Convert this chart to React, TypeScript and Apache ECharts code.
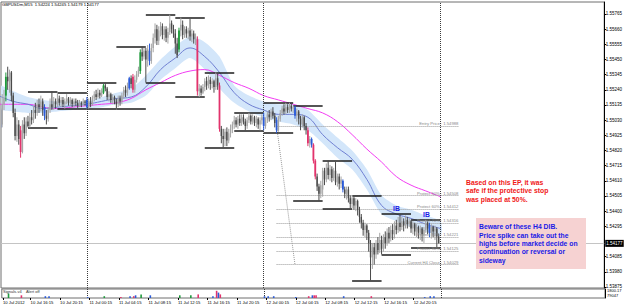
import React, { useEffect, useRef } from 'react';
import * as echarts from 'echarts';

const TITLE = 'GBPUSDm,M15  1.54224 1.54245 1.54179 1.54177';

// M15 candles, [open, close, low, high] in pips (5540 = 1.5540). Bar 0 = 10 Jul 12:00
const day10Bars = [
  [5520,5512,5505,5527],[5511,5498,5495,5518],[5500,5514,5498,5521],[5514,5518,5510,5524],[5520,5533,5516,5536],[5533,5530,5524,5540],[5530,5536,5522,5538],[5536,5520,5516,5537],
  [5520,5508,5505,5522],[5508,5492,5489,5511],[5492,5500,5488,5505],[5500,5490,5486,5503],[5496,5481,5477,5499],[5481,5500,5480,5503],[5500,5494,5490,5505],[5494,5502,5492,5505],
  [5502,5499,5498,5506],[5499,5505,5498,5508],[5505,5503,5500,5510],[5503,5510,5501,5513],[5510,5508,5504,5515],[5508,5514,5506,5517],[5514,5512,5508,5518],[5512,5516,5509,5520],
  [5516,5510,5506,5518],[5512,5506,5503,5514],[5506,5504,5500,5510],[5504,5510,5502,5512],[5510,5514,5508,5518],[5514,5512,5510,5523],[5512,5516,5510,5519],[5516,5514,5511,5518],
  [5514,5518,5512,5522],[5518,5515,5513,5520],[5515,5517,5512,5519],[5517,5514,5512,5519],[5514,5516,5511,5518],[5516,5518,5514,5521],[5518,5515,5513,5519],[5515,5517,5513,5519],
  [5517,5514,5512,5518],[5514,5516,5512,5518],[5516,5515,5513,5518],[5515,5513,5511,5517],[5513,5515,5512,5517],[5515,5514,5512,5516],[5514,5516,5513,5518],[5516,5515,5513,5517],
];
const day11Bars = [
  [5517,5512,5511,5519],[5512,5516,5511,5518],[5516,5514,5512,5519],[5514,5518,5513,5520],[5518,5521,5516,5523],[5521,5519,5517,5524],[5519,5522,5518,5525],[5522,5520,5518,5524],
  [5520,5523,5519,5525],[5522,5527,5521,5528],[5527,5525,5523,5529],[5525,5519,5517,5526],[5519,5521,5516,5523],[5521,5517,5515,5522],[5517,5519,5514,5521],[5519,5516,5514,5520],
  [5516,5514,5511,5518],[5514,5518,5512,5520],[5518,5516,5513,5520],[5516,5520,5514,5522],[5520,5524,5518,5526],[5524,5522,5519,5527],[5522,5526,5520,5529],[5525,5532,5524,5533],
  [5532,5528,5525,5534],[5533,5524,5522,5535],[5524,5531,5522,5534],[5531,5535,5529,5537],[5535,5538,5533,5540],[5537,5550,5535,5552],[5550,5547,5544,5554],[5547,5551,5545,5553],
  [5551,5545,5529,5553],[5545,5552,5540,5555],[5551,5544,5541,5556],[5544,5553,5542,5556],[5553,5560,5550,5563],[5560,5566,5556,5570],[5566,5558,5555,5569],[5558,5565,5555,5568],
  [5565,5568,5561,5571],[5568,5562,5559,5570],[5562,5566,5558,5568],[5566,5560,5557,5568],[5560,5564,5556,5567],[5564,5570,5562,5576],[5570,5566,5563,5572],[5566,5563,5560,5569],
  [5563,5556,5549,5566],[5556,5548,5546,5560],[5552,5565,5550,5567],[5565,5569,5561,5574],[5569,5562,5559,5572],[5562,5566,5560,5568],[5566,5563,5560,5568],[5563,5565,5559,5567],
  [5565,5561,5558,5573],[5561,5563,5557,5566],[5563,5559,5556,5565],[5559,5561,5555,5563],[5559,5523,5520,5561],[5523,5525,5519,5528],[5525,5522,5520,5527],[5522,5526,5521,5528],
  [5526,5530,5523,5532],[5530,5527,5524,5533],[5527,5531,5525,5534],[5531,5528,5524,5533],[5528,5530,5525,5532],[5530,5526,5522,5531],[5526,5532,5524,5536],[5532,5527,5524,5535],
  [5527,5497,5495,5529],[5497,5492,5487,5499],[5492,5490,5484,5497],[5490,5495,5485,5497],[5495,5489,5485,5498],[5489,5494,5487,5497],[5494,5497,5491,5500],[5497,5500,5494,5502],
  [5500,5503,5497,5506],[5503,5500,5498,5505],[5500,5504,5497,5506],[5504,5501,5499,5507],[5501,5505,5499,5507],[5505,5502,5500,5507],[5502,5499,5496,5504],[5499,5503,5497,5505],
  [5503,5506,5501,5508],[5506,5502,5500,5507],[5502,5505,5500,5507],[5505,5501,5499,5506],[5501,5504,5498,5506],[5504,5500,5497,5505],[5500,5503,5496,5505],[5503,5505,5500,5507],
];
const day12Bars = [
  [5505,5499,5496,5508],[5499,5503,5497,5505],[5503,5507,5501,5509],[5507,5505,5502,5510],[5505,5509,5503,5511],[5509,5506,5504,5512],[5506,5501,5498,5508],[5503,5496,5494,5505],
  [5496,5504,5495,5506],[5504,5508,5502,5510],[5508,5511,5506,5513],[5511,5509,5507,5514],[5509,5512,5507,5515],[5512,5510,5508,5514],[5510,5513,5508,5515],[5513,5511,5509,5515],
  [5511,5512,5508,5513],[5512,5506,5504,5513],[5506,5509,5502,5511],[5509,5504,5500,5510],[5504,5500,5496,5506],[5500,5505,5498,5507],[5505,5499,5496,5506],[5499,5496,5493,5501],
  [5496,5487,5485,5498],[5487,5490,5484,5492],[5490,5486,5484,5491],[5486,5475,5473,5487],[5475,5464,5462,5476],[5464,5457,5454,5466],[5457,5452,5447,5459],[5452,5458,5449,5461],
  [5455,5468,5450,5470],[5468,5462,5458,5470],[5462,5470,5460,5473],[5470,5465,5462,5475],[5465,5469,5461,5472],[5469,5463,5460,5471],[5463,5468,5461,5470],[5468,5460,5458,5474],
  [5460,5464,5457,5466],[5464,5459,5455,5466],[5459,5462,5456,5464],[5461,5455,5453,5462],[5455,5452,5449,5457],[5452,5455,5448,5457],[5455,5449,5446,5457],[5449,5445,5442,5451],
  [5445,5449,5442,5451],[5449,5444,5441,5450],[5444,5447,5440,5449],[5447,5441,5437,5448],[5441,5436,5432,5443],[5436,5432,5428,5438],[5432,5427,5423,5434],[5427,5430,5422,5432],
  [5430,5425,5420,5431],[5425,5418,5412,5427],[5418,5408,5392,5420],[5408,5415,5400,5418],[5415,5410,5403,5418],[5410,5418,5407,5420],[5418,5413,5410,5422],[5413,5420,5411,5425],
  [5420,5414,5410,5423],[5414,5422,5412,5424],[5422,5418,5414,5426],[5418,5425,5416,5428],[5425,5421,5418,5429],[5421,5427,5419,5430],[5427,5424,5420,5431],[5424,5430,5421,5433],
  [5430,5427,5424,5434],[5427,5432,5425,5436],[5432,5429,5426,5438],[5429,5433,5427,5436],[5433,5430,5426,5435],[5430,5434,5428,5437],[5434,5431,5428,5436],[5431,5433,5429,5435],
  [5433,5428,5425,5434],[5428,5431,5424,5433],[5431,5426,5423,5432],[5426,5429,5422,5431],[5429,5425,5421,5430],[5425,5428,5420,5430],[5428,5424,5419,5429],[5424,5427,5418,5429],
  [5427,5432,5425,5434],[5432,5428,5424,5433],[5430,5425,5422,5432],[5425,5429,5421,5431],[5429,5426,5422,5430],[5426,5428,5420,5430],[5428,5422.4,5415,5429],[5422.4,5417.7,5417.7,5424.5],
];
const greenBars = [4, 57, 77, 98];
const blueBars = [1, 25, 48, 71, 82, 144, 151, 161, 170, 187, 234];
const redBars = [12, 73, 108, 120, 168, 171, 172];

// H4 high / low levels (pips), one per 16-bar block
const h4High = [5540, 5523, 5522, 5529, 5554, 5576, 5574, 5536, 5508, 5515, 5513, 5475, 5451, 5438, 5434];
const h4Low = [5477, 5498, 5511, 5511, 5511, 5529, 5519, 5484, 5496, 5494, 5447, 5442, 5392, 5410, 5415];

// Moving averages and band, sampled every 8 bars (pips)
const maBars = [0,8,16,24,32,40,48,56,64,72,80,88,96,104,112,120,128,136,144,152,160,168,176,184,192,200,208,216,224,232,240];
const fastMa = [5520,5516,5514,5511,5512,5513,5514,5516,5518,5519,5526,5538,5546,5553,5547,5536,5522,5514,5510,5507,5507,5505,5493,5484,5476,5462,5444,5438,5435,5431,5428];
const bandUpper = [5527,5523,5519,5517,5516,5516,5516,5519,5522,5525,5534,5545,5554,5561,5557,5547,5527,5520,5516,5514,5514,5510,5500,5491,5482,5469,5451,5444,5441,5437,5433];
const bandLower = [5511,5509,5508,5508,5509,5510,5511,5512,5514,5515,5520,5531,5539,5546,5538,5525,5515,5509,5505,5502,5500,5496,5487,5477,5469,5455,5438,5433,5429,5426,5423];
const slowMa = [5514,5514,5514,5512,5511,5512,5513,5514,5515,5518,5524,5529,5534,5537,5538,5534,5529,5525,5520,5517,5514,5511,5508,5502,5493,5483,5474,5464,5458,5454,5450];

// Fibonacci protect levels
const fibNames = ['Entry Price', 'Protect 50%', 'Protect 60%', 'Protect 70%', 'Protect 80%', 'Protect 90%', 'Current H4 Close'];
const fibLevels = [1.54988, 1.54508, 1.54412, 1.54316, 1.54221, 1.54125, 1.54029];
const fibFromBar = 151;
const fibToBar = 250;
const fibDiagonalEndBar = 161;

const daySeparators = [48, 144, 240];
const currentPrice = 1.54177;

const priceTicks = [1.53875,1.53980,1.54085,1.54295,1.54400,1.54505,1.54610,1.54715,1.54820,1.54925,1.55030,1.55135,1.55240,1.55345,1.55450,1.55555,1.55660,1.55765];
const timeTickBars = [2,17,33,49,65,81,97,113,129,145,161,177,193,209,225];
const timeLabels = ['10 Jul 2012','10 Jul 16:15','10 Jul 20:15','11 Jul 00:15','11 Jul 04:15','11 Jul 08:15','11 Jul 12:15','11 Jul 16:15','11 Jul 20:15','12 Jul 00:15','12 Jul 04:15','12 Jul 08:15','12 Jul 12:15','12 Jul 16:15','12 Jul 20:15'];

// Sub-window signal histogram: [bar, value, kind] kind 0 green 1 blue 2 red
const subBars = [[5,5,0],[12,3,2],[25,2,1],[27,2,1],[48,1,1],[57,2,0],[66,1,2],[71,2,1],[73,2,2],[74,3,1],[77,4,0],[82,3,1],[98,3,0],[104,3,0],[108,4,2],[116,2,1],[118,8,2],[119,6,1],[120,4,2],[144,2,1],[146,2,1],[149,2,1],[161,1,1],[168,2,2],[170,3,1],[171,3,2],[172,3,2],[187,2,1],[202,2,2],[231,1,1],[234,2,1],[236,2,1]];

const FONT = 'Liberation Sans, Arial, sans-serif';
const CANDLE_COLORS = ['#a6a6a6', '#4a4a4a', '#1f9a3c', '#2b5bd8', '#e2336c'];
const SUB_COLORS = ['#1f9a3c', '#2b5bd8', '#e2336c'];
const P = (p: number) => 1 + p / 10000;

export default function App() {
  const ref = useRef<HTMLDivElement>(null);
  useEffect(() => {
    if (!ref.current) return;
    const chart = echarts.init(ref.current, undefined, { renderer: 'svg' });
    const allBars = [...day10Bars, ...day11Bars, ...day12Bars];
    const candleData = allBars.map((b, i) => {
      const kind = greenBars.includes(i) ? 2 : blueBars.includes(i) ? 3 : redBars.includes(i) ? 4 : b[1] >= b[0] ? 0 : 1;
      return [i, P(b[0]), P(b[1]), P(b[2]), P(b[3]), kind];
    });
    const xMin = 1.36, xMax = 328.9;
    const dotted = { color: '#3a3a3a', width: 1, type: [1, 1] as any };
    const h4Lines: any[] = [];
    h4High.forEach((v, k) => h4Lines.push([{ coord: [16 * k, P(v)] }, { coord: [16 * k + 16, P(v)] }]));
    h4Low.forEach((v, k) => h4Lines.push([{ coord: [16 * k, P(v)] }, { coord: [16 * k + 16, P(v)] }]));
    const fibLines: any[] = fibLevels.map((v, k) => [
      { coord: [fibFromBar, v], label: { formatter: fibNames[k] + ' : ' + v.toFixed(5) } },
      { coord: [fibToBar, v] },
    ]);
    fibLines.push([
      { coord: [fibFromBar, fibLevels[0]], label: { show: false } },
      { coord: [fibDiagonalEndBar, fibLevels[fibLevels.length - 1]] },
    ]);

    const option: any = {
      animation: false,
      backgroundColor: '#ffffff',
      title: { text: TITLE, left: 2, top: 2, padding: 0, textStyle: { fontSize: 4.2, fontWeight: 'normal', color: '#000', fontFamily: FONT } },
      grid: [
        { left: 1, right: 20, top: 2, height: 286, show: true, borderColor: '#6e6e6e', borderWidth: 1, backgroundColor: 'transparent' },
        { left: 1, right: 20, top: 289, height: 9, show: true, borderColor: '#6e6e6e', borderWidth: 1, backgroundColor: 'transparent' },
      ],
      xAxis: [
        { type: 'value', gridIndex: 0, min: xMin, max: xMax, show: false },
        {
          type: 'value', gridIndex: 1, min: xMin, max: xMax,
          axisLine: { show: false }, splitLine: { show: false },
          axisTick: { show: true, length: 2, lineStyle: { color: '#000' }, customValues: timeTickBars },
          axisLabel: {
            show: true, customValues: timeTickBars, fontSize: 4.2, color: '#000', fontFamily: FONT, align: 'left', margin: 2,
            formatter: (v: number) => { const k = timeTickBars.indexOf(v); return k >= 0 ? timeLabels[k] : ''; },
          },
        },
      ],
      yAxis: [
        {
          type: 'value', gridIndex: 0, position: 'right', min: 1.53868, max: 1.55848, scale: true,
          axisLine: { show: true, lineStyle: { color: '#000', width: 1 } },
          splitLine: { show: false },
          axisTick: { show: true, length: 2, lineStyle: { color: '#000' }, customValues: priceTicks },
          axisLabel: { show: true, customValues: priceTicks, fontSize: 4.5, color: '#000', fontFamily: FONT, margin: 1.5, formatter: (v: number) => v.toFixed(5) },
        },
        {
          type: 'value', gridIndex: 1, position: 'right', min: 0, max: 10,
          axisLine: { show: true, lineStyle: { color: '#000', width: 1 } },
          splitLine: { show: false }, axisTick: { show: false }, axisLabel: { show: false },
        },
      ],
      series: [
        {
          type: 'custom', name: 'band', xAxisIndex: 0, yAxisIndex: 0, clip: true, z: 1, silent: true,
          encode: { x: 0, y: 1 },
          data: [[maBars[0], P(bandLower[0])]],
          renderItem: (params: any, api: any) => {
            const up = maBars.map((b, k) => api.coord([b, P(bandUpper[k])]));
            const lo = maBars.map((b, k) => api.coord([b, P(bandLower[k])])).reverse();
            const a = api.coord([xMin, currentPrice]);
            const b2 = api.coord([xMax, currentPrice]);
            return {
              type: 'group',
              children: [
                { type: 'polygon', shape: { points: [...up, ...lo], smooth: 0.25 }, style: { fill: '#d3e6fa' } },
                { type: 'line', shape: { x1: a[0], y1: Math.round(a[1]) + 0.5, x2: b2[0], y2: Math.round(b2[1]) + 0.5 }, style: { stroke: '#c4c4c4', lineWidth: 1 } },
              ],
            };
          },
        },
        {
          type: 'line', name: 'slow', xAxisIndex: 0, yAxisIndex: 0, symbol: 'none', smooth: 0.4, z: 2,
          lineStyle: { color: '#f23cf2', width: 1 }, data: maBars.map((b, k) => [b, P(slowMa[k])]),
          markLine: {
            silent: true, symbol: ['none', 'none'], animation: false,
            lineStyle: { color: '#9a9a9a', width: 1, type: [1, 1] },
            label: { show: true, position: 'insideEndTop', fontSize: 4.2, color: '#8a8a8a', fontFamily: FONT, distance: 0.5 },
            data: fibLines,
          },
        },
        {
          type: 'line', name: 'fast', xAxisIndex: 0, yAxisIndex: 0, symbol: 'none', smooth: 0.4, z: 3,
          lineStyle: { color: '#6f7fd2', width: 1 }, data: maBars.map((b, k) => [b, P(fastMa[k])]),
          markLine: {
            silent: true, symbol: ['none', 'none'], animation: false,
            lineStyle: { color: '#1c1c1c', width: 1.5, type: 'solid' },
            label: { show: false }, data: h4Lines,
          },
        },
        {
          type: 'custom', name: 'candles', xAxisIndex: 0, yAxisIndex: 0, clip: true, z: 5,
          encode: { x: 0, y: [1, 2, 3, 4] },
          data: candleData,
          renderItem: (params: any, api: any) => {
            const x = api.value(0), o = api.value(1), c = api.value(2), l = api.value(3), h = api.value(4);
            const kind = api.value(5);
            const col = CANDLE_COLORS[kind];
            const pH = api.coord([x, h]);
            const pL = api.coord([x, l]);
            const pT = api.coord([x, Math.max(o, c)]);
            const pB = api.coord([x, Math.min(o, c)]);
            const w = kind >= 2 ? 1.8 : 1.4;
            return {
              type: 'group',
              children: [
                { type: 'line', shape: { x1: pH[0], y1: pH[1], x2: pL[0], y2: pL[1] }, style: { stroke: col, lineWidth: 1 } },
                { type: 'rect', shape: { x: pT[0] - w / 2, y: pT[1], width: w, height: Math.max(pB[1] - pT[1], 0.8) }, style: { fill: col } },
              ],
            };
          },
          markLine: {
            silent: true, symbol: ['none', 'none'], animation: false,
            data: daySeparators.map((d) => ({ xAxis: d, lineStyle: dotted, label: { show: false } })),
          },
        },
        {
          type: 'custom', name: 'priceTag', xAxisIndex: 0, yAxisIndex: 0, clip: false, z: 20, silent: true,
          encode: { x: 0, y: 1 },
          data: [[xMax, currentPrice]],
          renderItem: (params: any, api: any) => {
            const pt = api.coord([api.value(0), api.value(1)]);
            return {
              type: 'group',
              children: [
                { type: 'rect', shape: { x: pt[0] + 1, y: pt[1] - 3.5, width: 18.5, height: 7 }, style: { fill: '#000' } },
                { type: 'text', x: pt[0] + 2, y: pt[1], style: { text: currentPrice.toFixed(5), fill: '#fff', font: '4.5px ' + FONT, verticalAlign: 'middle', align: 'left' } },
              ],
            };
          },
        },
        {
          type: 'custom', name: 'signals', xAxisIndex: 1, yAxisIndex: 1, clip: true, z: 5,
          encode: { x: 0, y: 1 },
          data: subBars,
          renderItem: (params: any, api: any) => {
            const x = api.value(0), v = api.value(1);
            const p0 = api.coord([x, 0]);
            const p1 = api.coord([x, v]);
            return { type: 'rect', shape: { x: p0[0] - 0.8, y: p1[1], width: 1.6, height: p0[1] - p1[1] }, style: { fill: SUB_COLORS[api.value(2)] } };
          },
          markLine: {
            silent: true, symbol: ['none', 'none'], animation: false,
            data: daySeparators.map((d) => ({ xAxis: d, lineStyle: dotted, label: { show: false } })),
          },
        },
      ],
      graphic: [
        { type: 'rect', z: 100, shape: { x: 476, y: 218, width: 110, height: 51 }, style: { fill: '#f6d2d2' } },
        {
          type: 'text', z: 101, x: 479, y: 222.5,
          style: {
            text: 'Beware of these H4 DIB.\nPrice spike can take out the\nhighs before market decide on\ncontinuation or reversal or\nsideway',
            fill: '#1a1ae6', font: 'bold 6.8px ' + FONT, lineHeight: 8.4,
          },
        },
        {
          type: 'text', z: 101, x: 466, y: 178,
          style: {
            text: 'Based on this EP, it was\nsafe if the protective stop\nwas placed at 50%.',
            fill: '#f01818', font: 'bold 6.8px ' + FONT, lineHeight: 8.5,
          },
        },
        { type: 'text', z: 101, x: 393, y: 205, style: { text: 'IB', fill: '#1a1ae6', font: 'bold 6.8px ' + FONT } },
        { type: 'text', z: 101, x: 423, y: 211, style: { text: 'IB', fill: '#1a1ae6', font: 'bold 6.8px ' + FONT } },
        { type: 'text', z: 101, x: 3, y: 289.5, style: { text: 'Signals-v4    Alert off', fill: '#333', font: '4px ' + FONT } },
        { type: 'text', z: 101, x: 607, y: 288.5, style: { text: '1800.17', fill: '#000', font: '4px ' + FONT } },
        { type: 'text', z: 101, x: 607, y: 293.5, style: { text: '79047', fill: '#000', font: '4px ' + FONT } },
      ],
    };
    chart.setOption(option);
    return () => chart.dispose();
  }, []);
  return <div ref={ref} style={{ position: 'absolute', left: 0, top: 0, width: 625, height: 307 }} />;
}
